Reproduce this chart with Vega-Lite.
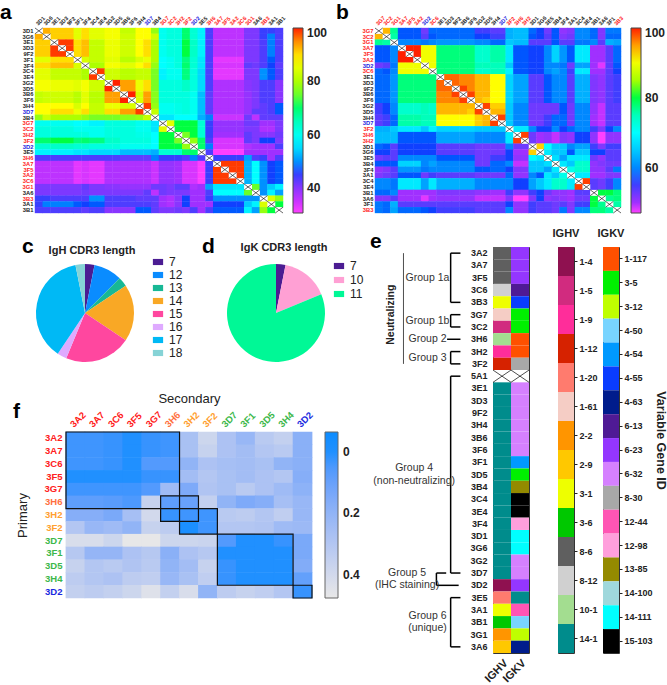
{"$schema":"https://vega.github.io/schema/vega-lite/v6.json","padding":{"left":0,"top":2,"right":0,"bottom":0},"background":"white","config":{"font":"Liberation Sans","view":{"stroke":null},"title":{"fontSize":21,"fontWeight":"bold","color":"black","frame":"group"}},"spacing":219,"align":"none","bounds":"flush","resolve":{"scale":{"color":"independent"},"legend":{"color":"independent"}},"vconcat":[{"spacing":92,"bounds":"flush","align":"none","resolve":{"scale":{"color":"independent"},"legend":{"color":"independent"}},"hconcat":[
{"title":{"text":"a","anchor":"start","dx":-35,"dy":8,"offset":0},"width":248,"height":185,"data":{"values":[
{"r":"3D1","v":[0,93,91,91,91,85,90,85,85,87,87,82,82,88,88,78,60,62,62,70,63,57,44,36,36,36,36,41,41,45,45,44]},
{"r":"3G6","v":[93,0,91,91,91,85,90,85,85,87,87,83,83,88,88,83,60,62,62,70,63,57,44,36,36,36,36,41,41,45,49,44]},
{"r":"3E1","v":[91,91,0,98,98,90,92,82,82,86,86,83,83,88,90,80,60,62,62,72,64,57,44,36,36,36,36,41,41,44,49,44]},
{"r":"3D3","v":[91,91,98,0,98,90,92,82,82,86,86,83,83,88,90,80,60,62,62,72,64,57,44,36,36,36,36,41,41,44,49,44]},
{"r":"9F2","v":[91,91,98,98,0,90,92,82,82,86,86,83,83,88,90,80,60,62,62,72,64,57,44,36,36,36,36,41,41,44,49,44]},
{"r":"3F1","v":[85,85,90,90,90,0,84,82,82,85,85,81,81,84,86,80,58,60,62,69,63,56,44,33,33,33,33,41,41,44,47,44]},
{"r":"3F4","v":[90,90,92,92,92,84,0,80,80,87,87,85,85,88,90,78,58,60,62,70,63,56,44,34,34,34,34,43,42,44,46,43]},
{"r":"3C4","v":[85,85,82,82,82,82,80,0,98,83,83,81,81,82,82,76,57,60,60,69,62,55,44,33,33,33,33,41,41,50,47,44]},
{"r":"3E4","v":[85,85,82,82,82,82,80,98,0,83,83,81,81,82,82,76,57,60,60,69,62,55,44,33,33,33,33,41,41,50,47,44]},
{"r":"3G2","v":[87,87,86,86,86,85,87,83,83,0,99,94,94,86,90,76,62,62,62,64,62,55,44,37,37,37,37,40,41,44,44,40]},
{"r":"3D5","v":[87,87,86,86,86,85,87,83,83,99,0,94,94,86,90,76,62,62,62,64,62,55,44,37,37,37,37,40,41,44,44,40]},
{"r":"3B6","v":[82,83,83,83,83,81,85,81,81,94,94,0,99,84,94,77,62,62,62,62,60,53,43,37,37,37,37,39,41,44,44,40]},
{"r":"3F6","v":[82,83,83,83,83,81,85,81,81,94,94,99,0,84,94,77,62,62,62,62,60,53,43,37,37,37,37,39,41,44,44,40]},
{"r":"3H4","v":[88,88,88,88,88,84,88,82,82,86,86,84,84,0,98,78,60,60,61,62,60,53,43,37,37,37,37,39,41,43,44,47]},
{"r":"3D7","v":[88,88,90,90,90,86,90,82,82,90,90,94,94,98,0,82,60,60,61,62,60,53,43,37,37,37,37,39,43,43,44,47]},
{"r":"3B4","v":[78,83,80,80,80,80,78,76,76,76,76,77,77,78,82,0,56,56,58,58,58,52,49,35,35,35,35,42,36,43,43,43]},
{"r":"3G7","v":[60,60,60,60,60,58,58,57,57,62,62,62,62,60,60,56,0,85,72,72,72,63,45,39,39,39,39,42,42,38,38,41]},
{"r":"3C2","v":[62,62,62,62,62,60,60,60,60,62,62,62,62,60,60,56,85,0,72,72,72,63,45,39,39,39,39,41,41,37,37,41]},
{"r":"3H2","v":[62,62,62,62,62,62,62,60,60,62,62,62,62,61,61,58,72,72,0,76,72,63,45,38,38,38,38,43,41,40,40,42]},
{"r":"3F2","v":[70,70,72,72,72,69,70,69,69,64,64,62,62,62,62,58,72,72,76,0,78,70,44,34,34,34,34,43,41,46,46,41]},
{"r":"3D2","v":[63,63,64,64,64,63,63,62,62,62,62,60,60,60,60,58,72,72,72,78,0,70,49,34,34,34,34,37,38,38,38,44]},
{"r":"3E5","v":[57,57,57,57,57,56,56,55,55,55,55,53,53,53,53,52,63,63,63,70,70,0,44,31,31,31,31,38,38,38,38,38]},
{"r":"3H6","v":[44,44,44,44,44,44,44,44,44,44,44,43,43,43,43,49,45,45,45,44,49,44,0,45,45,45,45,51,44,45,38,44]},
{"r":"3A7","v":[36,36,36,36,36,33,34,33,33,37,37,37,37,37,37,35,39,39,38,34,34,31,45,0,98,98,98,52,58,50,46,47]},
{"r":"3F5","v":[36,36,36,36,36,33,34,33,33,37,37,37,37,37,37,35,39,39,38,34,34,31,45,98,0,98,98,52,58,50,46,47]},
{"r":"3A2","v":[36,36,36,36,36,33,34,33,33,37,37,37,37,37,37,35,39,39,38,34,34,31,45,98,98,0,98,52,58,50,46,47]},
{"r":"3C6","v":[36,36,36,36,36,33,34,33,33,37,37,37,37,37,37,35,39,39,38,34,34,31,45,98,98,98,0,52,58,50,46,47]},
{"r":"3G1","v":[41,41,41,41,41,41,43,41,41,40,40,39,39,39,39,42,42,41,43,43,37,38,51,56,56,56,56,0,75,50,54,57]},
{"r":"3A6","v":[41,41,41,41,41,41,42,41,41,41,41,41,41,41,43,36,42,41,41,41,38,38,44,58,58,58,58,75,0,50,57,51]},
{"r":"3B3","v":[45,45,44,44,44,44,44,50,50,44,44,44,44,43,43,43,38,37,40,46,38,38,45,50,50,50,50,50,50,0,84,78]},
{"r":"3A1","v":[45,49,49,49,49,47,46,47,47,44,44,44,44,44,44,43,38,37,40,46,38,38,38,46,46,46,46,54,57,84,0,72]},
{"r":"3B1","v":[44,44,44,44,44,44,43,44,44,40,40,40,40,47,47,43,41,41,42,41,44,38,44,47,47,47,47,57,51,78,72,0]}
]},"transform":[{"flatten":["v"]},{"window":[{"op":"row_number","as":"c"}],"groupby":["r"]}],
"encoding":{"x":{"field":"c","type":"ordinal","axis":{"orient":"top","title":null,"domain":false,"ticks":false,"labelAngle":-45,"labelFontSize":5.5,"labelFontWeight":"bold","labelPadding":2,"labelExpr":"['3D1','3G6','3E1','3D3','9F2','3F1','3F4','3C4','3E4','3G2','3D5','3B6','3F6','3H4','3D7','3B4','3G7','3C2','3H2','3F2','3D2','3E5','3H6','3A7','3F5','3A2','3C6','3G1','3A6','3B3','3A1','3B1'][datum.value-1]","labelColor":{"condition":[{"test":"indexof([17,18,19,20,23,24,25,26,27,28,30],datum.value)>=0","value":"#ff2020"},{"test":"indexof([15,21],datum.value)>=0","value":"#2020e0"}],"value":"#222"}}},"y":{"field":"r","type":"nominal","sort":null,"axis":{"title":null,"domain":false,"ticks":false,"labelFontSize":5.8,"labelFontWeight":"bold","labelPadding":2,"labelColor":{"condition":[{"test":"indexof(['3G7','3C2','3H2','3F2','3H6','3A7','3F5','3A2','3C6','3G1','3B3'],datum.value)>=0","value":"#ff2020"},{"test":"indexof(['3D7','3D2'],datum.value)>=0","value":"#2020e0"}],"value":"#222"}}}},
"layer":[{"transform":[{"filter":"datum.v>0"}],"mark":{"type":"rect","width":{"band":1.06},"height":{"band":1.06}},"encoding":{"color":{"field":"v","type":"quantitative","scale":{"domain":[30.7,38,46,58,72,88,94,98.5,100],"range":["#ff40ff","#a030ff","#1040ff","#00ffff","#00ff40","#ffff00","#ffa000","#ff2000","#ff2000"]},"legend":{"orient":"none","legendX":258,"legendY":0,"title":null,"gradientLength":185,"gradientThickness":10,"gradientStrokeColor":"#444","gradientStrokeWidth":1,"labelFontSize":12,"labelFontWeight":"bold","labelColor":"#222","labelOffset":4,"values":[40,60,80,100]}}}},
{"transform":[{"filter":"datum.v==0"}],"mark":{"type":"rect","fill":"white"}},
{"transform":[{"filter":"datum.v==0"}],"mark":{"type":"point","shape":"M-1,-0.75L1,0.75M-1,0.75L1,-0.75","size":61,"stroke":"#222","strokeWidth":0.7,"opacity":1}}]},
{"title":{"text":"b","anchor":"start","dx":-39,"dy":8,"offset":0},"width":246,"height":185,"data":{"values":[
{"r":"3G7","v":[0,94,77,57,57,57,53,58,58,58,58,58,58,55,55,54,54,63,64,64,58,56,53,57,51,52,60,60,58,52,59,59]},
{"r":"3C2","v":[94,0,76,57,57,57,54,57,58,58,58,58,58,56,56,55,55,63,64,64,57,56,54,57,52,53,60,60,58,52,58,58]},
{"r":"3G1","v":[77,76,0,60,60,60,59,60,61,61,61,61,61,60,60,58,58,65,64,64,54,54,54,57,54,54,59,59,60,54,63,62]},
{"r":"3A7","v":[57,57,60,0,99,99,90,90,78,78,78,78,78,74,74,76,76,68,57,57,56,56,60,66,61,57,68,68,50,50,54,58]},
{"r":"3F5","v":[57,57,60,99,0,99,90,90,78,78,78,78,78,74,74,76,76,68,57,57,56,56,60,66,61,57,68,68,50,50,54,58]},
{"r":"3A2","v":[57,57,60,99,99,0,90,90,78,78,78,78,78,74,74,76,76,68,57,57,56,56,60,66,61,57,68,68,50,50,54,58]},
{"r":"3D2","v":[53,54,59,90,90,90,0,90,78,78,78,78,78,75,75,75,75,65,57,57,56,56,60,60,59,53,62,62,50,48,54,57]},
{"r":"3C6","v":[58,57,60,90,90,90,90,0,78,78,78,78,78,74,74,75,75,69,57,57,56,56,60,62,60,55,68,68,50,50,54,56]},
{"r":"3E1","v":[58,58,61,78,78,78,78,78,0,97,97,96,96,94,94,91,91,66,62,62,54,54,57,60,60,54,63,63,52,51,54,55]},
{"r":"3D3","v":[58,58,61,78,78,78,78,78,97,0,97,96,96,94,94,91,91,66,62,62,54,54,57,60,60,54,63,63,52,51,54,55]},
{"r":"9F2","v":[58,58,61,78,78,78,78,78,97,97,0,98,96,94,94,91,91,66,62,62,54,54,57,60,60,54,63,63,52,51,54,55]},
{"r":"3B6","v":[58,58,61,78,78,78,78,78,96,96,98,0,98,94,94,91,91,66,62,62,54,54,57,60,60,54,63,63,52,51,54,55]},
{"r":"3F6","v":[58,58,61,78,78,78,78,78,96,96,96,98,0,94,93,91,91,66,62,62,54,54,57,60,60,54,63,63,52,51,54,55]},
{"r":"3G2","v":[55,56,60,74,74,74,75,74,94,94,94,94,94,0,98,93,93,65,60,60,53,53,53,53,57,53,60,60,51,49,54,54]},
{"r":"3D5","v":[55,56,60,74,74,74,75,74,94,94,94,94,93,98,0,94,94,65,60,60,53,53,53,53,57,53,60,60,51,49,54,54]},
{"r":"3H4","v":[54,55,58,76,76,76,75,75,91,91,91,91,91,93,94,0,98,65,60,60,53,53,55,58,58,53,60,60,50,49,54,54]},
{"r":"3D7","v":[54,55,58,76,76,76,75,75,91,91,91,91,91,93,94,98,0,65,60,60,53,53,55,58,58,53,60,60,50,49,54,54]},
{"r":"3F2","v":[63,63,65,68,68,68,65,69,66,66,66,66,66,65,65,65,65,0,68,68,60,56,56,60,56,58,60,60,55,52,56,60]},
{"r":"3H6","v":[64,64,64,57,57,57,57,57,62,62,62,62,62,60,60,60,60,68,0,98,53,50,51,49,52,51,56,56,51,47,51,51]},
{"r":"3H2","v":[64,64,64,57,57,57,57,57,62,62,62,62,62,60,60,60,60,68,98,0,53,50,51,49,52,51,56,56,51,47,51,51]},
{"r":"3D1","v":[58,57,54,56,56,56,56,56,54,54,54,54,54,53,53,53,53,60,53,53,0,93,70,65,65,60,62,62,55,52,55,55]},
{"r":"3G6","v":[56,56,54,56,56,56,56,56,54,54,54,54,54,53,53,53,53,56,50,50,93,0,68,65,65,57,65,65,56,56,54,54]},
{"r":"3E5","v":[53,54,54,60,60,60,60,60,57,57,57,57,57,53,53,55,55,56,51,51,70,68,0,67,62,68,68,68,53,51,54,54]},
{"r":"3B4","v":[57,57,57,66,66,66,60,62,60,60,60,60,60,53,53,58,58,60,49,49,65,65,67,0,68,65,74,74,51,52,53,53]},
{"r":"3F4","v":[51,52,54,61,61,61,59,60,60,60,60,60,60,57,57,58,58,56,52,52,65,65,62,68,0,72,74,74,51,51,54,59]},
{"r":"3A1","v":[52,53,54,57,57,57,53,55,54,54,54,54,54,53,53,53,53,58,51,51,60,57,68,65,72,0,68,68,50,50,52,52]},
{"r":"3C4","v":[60,60,59,68,68,68,62,68,63,63,63,63,63,60,60,60,60,60,56,56,62,65,68,74,74,68,0,98,54,53,55,60]},
{"r":"3E4","v":[60,60,59,68,68,68,62,68,63,63,63,63,63,60,60,60,60,60,56,56,62,65,68,74,74,68,98,0,54,53,55,60]},
{"r":"3B1","v":[58,58,60,50,50,50,50,50,52,52,52,52,52,51,51,50,50,55,51,51,55,56,53,51,51,50,54,54,0,80,80,78]},
{"r":"3A6","v":[52,52,54,50,50,50,48,50,51,51,51,51,51,49,49,49,49,52,47,47,52,56,51,52,51,50,53,53,80,0,77,78]},
{"r":"3F1","v":[59,58,63,54,54,54,54,54,54,54,54,54,54,54,54,54,54,56,51,51,55,54,54,53,54,52,55,55,80,77,0,76]},
{"r":"3B3","v":[59,58,62,58,58,58,57,56,55,55,55,55,55,54,54,54,54,60,51,51,55,54,54,53,59,52,60,60,78,78,76,0]}
]},"transform":[{"flatten":["v"]},{"window":[{"op":"row_number","as":"c"}],"groupby":["r"]}],
"encoding":{"x":{"field":"c","type":"ordinal","axis":{"orient":"top","title":null,"domain":false,"ticks":false,"labelAngle":-45,"labelFontSize":5.5,"labelFontWeight":"bold","labelPadding":2,"labelExpr":"['3G7','3C2','3G1','3A7','3F5','3A2','3D2','3C6','3E1','3D3','9F2','3B6','3F6','3G2','3D5','3H4','3D7','3F2','3H6','3H2','3D1','3G6','3E5','3B4','3F4','3A1','3C4','3E4','3B1','3A6','3F1','3B3'][datum.value-1]","labelColor":{"condition":[{"test":"indexof([1,2,3,4,5,6,8,18,19,20,32],datum.value)>=0","value":"#ff2020"},{"test":"indexof([7,17],datum.value)>=0","value":"#2020e0"}],"value":"#222"}}},"y":{"field":"r","type":"nominal","sort":null,"axis":{"title":null,"domain":false,"ticks":false,"labelFontSize":5.8,"labelFontWeight":"bold","labelPadding":2,"labelColor":{"condition":[{"test":"indexof(['3G7','3C2','3G1','3A7','3F5','3A2','3C6','3F2','3H6','3H2','3B3'],datum.value)>=0","value":"#ff2020"},{"test":"indexof(['3D7','3D2'],datum.value)>=0","value":"#2020e0"}],"value":"#222"}}}},
"layer":[{"transform":[{"filter":"datum.v>0"}],"mark":{"type":"rect","width":{"band":1.06},"height":{"band":1.06}},"encoding":{"color":{"field":"v","type":"quantitative","scale":{"domain":[47,50,56,70,80,91,95,98.5,100],"range":["#ff40ff","#a030ff","#1040ff","#00ffff","#00ff40","#ffff00","#ffa000","#ff2000","#ff2000"]},"legend":{"orient":"none","legendX":256,"legendY":0,"title":null,"gradientLength":185,"gradientThickness":10,"gradientStrokeColor":"#444","gradientStrokeWidth":1,"labelFontSize":12,"labelFontWeight":"bold","labelColor":"#222","labelOffset":4,"values":[60,80,100]}}}},
{"transform":[{"filter":"datum.v==0"}],"mark":{"type":"rect","fill":"white"}},
{"transform":[{"filter":"datum.v==0"}],"mark":{"type":"point","shape":"M-1,-0.75L1,0.75M-1,0.75L1,-0.75","size":59,"stroke":"#222","strokeWidth":0.7,"opacity":1}}]}
]},
{"spacing":340,"bounds":"flush","align":"none","resolve":{"scale":{"color":"independent"},"legend":{"color":"independent"}},"hconcat":[
{"spacing":0,"bounds":"flush","align":"none","resolve":{"scale":{"color":"independent"},"legend":{"color":"independent"}},"vconcat":[
{"width":1,"height":16,"data":{"values":[]},"mark":"rect","encoding":{}},
{"spacing":191,"bounds":"flush","align":"none","resolve":{"scale":{"color":"independent"},"legend":{"color":"independent"}},"hconcat":[
{"title":{"text":"c","anchor":"start","dx":-13,"dy":12,"offset":0},"vconcat":[{"title":{"text":"IgH CDR3 length","fontSize":11,"fontWeight":"bold","color":"#222","anchor":"middle","offset":7,"dx":7},"width":100,"height":100,"data":{"values":[{"len":7,"n":1},{"len":12,"n":3},{"len":13,"n":1},{"len":14,"n":6},{"len":15,"n":7},{"len":16,"n":1},{"len":17,"n":12},{"len":18,"n":1}]},"mark":{"type":"arc","outerRadius":49},"encoding":{"theta":{"field":"n","type":"quantitative","stack":true},"order":{"field":"len","type":"quantitative"},"color":{"field":"len","type":"nominal","scale":{"domain":[7,12,13,14,15,16,17,18],"range":["#4b1c92","#0a8cff","#18b895","#f9a825","#ff479f","#dfaaff","#00b9f5","#86d3d6"]},"legend":{"orient":"none","legendX":117,"legendY":-7,"title":null,"symbolType":"M-1,-0.6H1V0.6H-1Z","symbolSize":105,"symbolStrokeWidth":0,"labelFontSize":12,"labelColor":"#222","rowPadding":1,"labelOffset":5}}}}]},
{"title":{"text":"d","anchor":"start","dx":-24,"dy":15,"offset":0},"vconcat":[{"title":{"text":"IgK CDR3 length","fontSize":11,"fontWeight":"bold","color":"#222","anchor":"middle","offset":10,"dx":8},"width":100,"height":100,"data":{"values":[{"len":7,"n":1},{"len":10,"n":5},{"len":11,"n":26}]},"mark":{"type":"arc","outerRadius":49},"encoding":{"theta":{"field":"n","type":"quantitative","stack":true},"order":{"field":"len","type":"quantitative"},"color":{"field":"len","type":"nominal","scale":{"domain":[7,10,11],"range":["#4b1c92","#ffa0d4","#00f896"]},"legend":{"orient":"none","legendX":107,"legendY":-3,"title":null,"symbolType":"M-1,-0.6H1V0.6H-1Z","symbolSize":105,"symbolStrokeWidth":0,"labelFontSize":12,"labelColor":"#222","rowPadding":2,"labelOffset":5}}}}]}
]},
{"width":1,"height":169,"data":{"values":[]},"mark":"rect","encoding":{}},
{"spacing":0,"bounds":"flush","align":"none","resolve":{"scale":{"color":"independent"},"legend":{"color":"independent"}},"hconcat":[
{"width":31,"height":1,"data":{"values":[]},"mark":"rect","encoding":{}},
{"title":{"text":"f","anchor":"start","dx":-53,"dy":30,"offset":0},"width":246,"height":166,"data":{"values":[
{"r":"3A2","v":[0.03,0.03,0.02,0,0.02,0.03,0.27,0.38,0.28,0.22,0.32,0.35,0.18]},
{"r":"3A7","v":[0.03,0.03,0.02,0,0.02,0.03,0.27,0.36,0.28,0.25,0.3,0.32,0.18]},
{"r":"3C6","v":[0.03,0.03,0.02,0,0.06,0.06,0.2,0.28,0.26,0.25,0.27,0.2,0.18]},
{"r":"3F5","v":[0,0,0,0,0.02,0.02,0.25,0.3,0.27,0.25,0.28,0.3,0.17]},
{"r":"3G7","v":[0.03,0.03,0.03,0.03,0.06,0.24,0.15,0.29,0.27,0.32,0.28,0.24,0.19]},
{"r":"3H6","v":[0.08,0.08,0.07,0.05,0.36,0.08,0.1,0.35,0.2,0.15,0.17,0.26,0.22]},
{"r":"3H2","v":[0.17,0.17,0.14,0.26,0.4,0.02,0.03,0.03,0.32,0.33,0.3,0.34,0.22]},
{"r":"3F2","v":[0.3,0.22,0.24,0.2,0.36,0.33,-0.02,0.03,0.3,0.3,0.29,0.24,0.23]},
{"r":"3D7","v":[0.42,0.42,0.38,0.47,0.47,0.38,0.38,0.37,0.06,0,0,0.02,0.14]},
{"r":"3F1","v":[0.31,0.21,0.21,0.28,0.31,0.18,0.28,0.31,0,0,0,0,0.14]},
{"r":"3D5","v":[0.36,0.3,0.32,0.29,0.32,0.2,0.25,0.36,0.02,0,0,0,0.16]},
{"r":"3H4","v":[0.33,0.3,0.28,0.33,0.34,0.22,0.27,0.34,0.02,0,0,0,0.09]},
{"r":"3D2","v":[0.35,0.33,0.35,0.38,0.44,0.35,0.42,0.2,0.33,0.36,0.34,0.3,0.02]}
]},"layer":[{"transform":[{"flatten":["v"]},{"window":[{"op":"row_number","as":"c"}],"groupby":["r"]}],"mark":{"type":"rect","width":{"band":1.04},"height":{"band":1.04}},"encoding":{"x":{"field":"c","type":"ordinal","axis":{"orient":"top","title":"Secondary","titleFontSize":13,"titleFontWeight":"normal","titleColor":"#222","titlePadding":4,"domain":false,"ticks":false,"labelAngle":-45,"labelFontSize":9.5,"labelFontWeight":"bold","labelPadding":3,"labelExpr":"['3A2','3A7','3C6','3F5','3G7','3H6','3H2','3F2','3D7','3F1','3D5','3H4','3D2'][datum.value-1]","labelColor":{"condition":[{"test":"datum.value<=5","value":"#ff2020"},{"test":"datum.value==6","value":"#ff7040"},{"test":"datum.value<=8","value":"#ffa030"},{"test":"datum.value<=12","value":"#3cb84a"}],"value":"#1a2ae0"}}},"y":{"field":"r","type":"nominal","sort":null,"axis":{"title":"Primary","titleFontSize":13,"titleFontWeight":"normal","titleColor":"#222","titlePadding":15,"domain":false,"ticks":false,"labelFontSize":9.5,"labelFontWeight":"bold","labelPadding":4,"labelColor":{"condition":[{"test":"indexof(['3A2','3A7','3C6','3F5','3G7'],datum.value)>=0","value":"#ff2020"},{"test":"datum.value=='3H6'","value":"#ff7040"},{"test":"indexof(['3H2','3F2'],datum.value)>=0","value":"#ffa030"},{"test":"datum.value=='3D2'","value":"#1a2ae0"}],"value":"#3cb84a"}}},"color":{"field":"v","type":"quantitative","scale":{"domain":[0.475,0,-0.065],"range":["#e8e8e8","#2090ff","#0a8cff"]},"legend":{"orient":"none","legendX":259,"legendY":0,"title":null,"gradientLength":166,"gradientThickness":13,"gradientStrokeColor":"#666","gradientStrokeWidth":1,"labelFontSize":12,"labelFontWeight":"bold","labelColor":"#222","labelOffset":5,"values":[0,0.2,0.4],"format":".1~f"}}}},
{"data":{"values":[{"a":1,"b":6,"s":"3A2","e":"3H6"},{"a":6,"b":7,"s":"3H6","e":"3H2"},{"a":7,"b":8,"s":"3H2","e":"3F2"},{"a":9,"b":12,"s":"3D7","e":"3H4"},{"a":13,"b":13,"s":"3D2","e":"3D2"}]},"mark":{"type":"rect","fill":null,"stroke":"#111","strokeWidth":1.2,"xOffset":-9.46,"x2Offset":9.46,"yOffset":-6.38,"y2Offset":6.38},"encoding":{"x":{"field":"a","type":"ordinal"},"x2":{"field":"b"},"y":{"field":"s","type":"nominal","sort":null},"y2":{"field":"e"}}}]}
]}
]},
{"title":{"text":"e","anchor":"start","dx":-5,"dy":24,"offset":0},"align":"none","bounds":"flush","spacing":29,"resolve":{"scale":{"color":"independent"},"legend":{"color":"independent"}},"hconcat":[
{"width":89,"height":406,"layer":[
{"data":{"values":[{"s":"3A2","e":"3B3"},{"s":"3G7","e":"3C2"},{"s":"3H2","e":"3F2"},{"s":"5A1","e":"3D7"},{"s":"3E5","e":"3A6"}]},"layer":[
{"mark":{"type":"rule","strokeWidth":1.5,"color":"black"},"encoding":{"x":{"datum":455,"type":"quantitative","scale":{"domain":[375,464]},"axis":null},"y":{"field":"s","type":"nominal","scale":{"type":"point","padding":0.5,"domain":["3A2","3A7","3F5","3C6","3B3","3G7","3C2","3H6","3H2","3F2","5A1","3E1","3D3","9F2","3H4","3B6","3F6","3F1","3D5","3B4","3C4","3E4","3F4","3D1","3G6","3G2","3D7","3D2","3E5","3A1","3B1","3G1","3A6"]},"axis":null},"y2":{"field":"e"}}},
{"mark":{"type":"rule","strokeWidth":1.5,"color":"black"},"encoding":{"x":{"datum":455,"type":"quantitative"},"x2":{"datum":466},"y":{"field":"s","type":"nominal"}}},
{"mark":{"type":"rule","strokeWidth":1.5,"color":"black"},"encoding":{"x":{"datum":455,"type":"quantitative"},"x2":{"datum":466},"y":{"field":"e","type":"nominal"}}}]},
{"data":{"values":[{"s":"3H6"}]},"mark":{"type":"rule","strokeWidth":1.5,"color":"black"},"encoding":{"x":{"datum":451,"type":"quantitative"},"x2":{"datum":466},"y":{"field":"s","type":"nominal"}}},
{"data":{"values":[{"s":"3D7","e":"3D2"}]},"layer":[
{"mark":{"type":"rule","strokeWidth":1.5,"color":"black"},"encoding":{"x":{"datum":439,"type":"quantitative"},"y":{"field":"s","type":"nominal"},"y2":{"field":"e"}}},
{"mark":{"type":"rule","strokeWidth":1.5,"color":"black"},"encoding":{"x":{"datum":439,"type":"quantitative"},"x2":{"datum":450},"y":{"field":"s","type":"nominal"}}},
{"mark":{"type":"rule","strokeWidth":1.5,"color":"black"},"encoding":{"x":{"datum":439,"type":"quantitative"},"x2":{"datum":464},"y":{"field":"e","type":"nominal"}}}]},
{"data":{"values":[{"s":"3A2","e":"3F2"}]},"mark":{"type":"rule","strokeWidth":0.8,"color":"#222"},"encoding":{"x":{"datum":402,"type":"quantitative"},"y":{"field":"s","type":"nominal"},"y2":{"field":"e"}}},
{"data":{"values":[{"t":"Neutralizing","s":"3G7"}]},"mark":{"type":"text","angle":270,"fontSize":10.5,"fontWeight":"bold","color":"#222","dy":-4},"encoding":{"x":{"datum":392,"type":"quantitative"},"y":{"field":"s","type":"nominal"},"text":{"field":"t"}}},
{"data":{"values":[{"t":"Group 1a","s":"3F5"},{"t":"Group 2","s":"3H6"}]},"mark":{"type":"text","fontSize":10.5,"color":"#333"},"encoding":{"x":{"datum":429,"type":"quantitative"},"y":{"field":"s","type":"nominal"},"text":{"field":"t"}}},
{"data":{"values":[{"t":"Group 1b","s":"3G7"},{"t":"Group 3","s":"3H2"},{"t":"Group 6","s":"3A1"},{"t":"(unique)","s":"3B1"}]},"mark":{"type":"text","fontSize":10.5,"color":"#333","dy":6},"encoding":{"x":{"datum":429,"type":"quantitative"},"y":{"field":"s","type":"nominal"},"text":{"field":"t"}}},
{"data":{"values":[{"t":"Group 4","s":"3F1"},{"t":"(non-neutralizing)","s":"3D5"}]},"mark":{"type":"text","fontSize":10.5,"color":"#333","dy":6},"encoding":{"x":{"datum":414,"type":"quantitative"},"y":{"field":"s","type":"nominal"},"text":{"field":"t"}}},
{"data":{"values":[{"t":"Group 5","s":"3D7"},{"t":"(IHC staining)","s":"3D2"}]},"mark":{"type":"text","fontSize":10.5,"color":"#333"},"encoding":{"x":{"datum":406,"type":"quantitative"},"y":{"field":"s","type":"nominal"},"text":{"field":"t"}}}
]},
{"width":36,"height":406,"view":{"stroke":"#333"},"data":{"values":[
{"s":"3A2","IGHV":"8-6","IGKV":"6-23"},{"s":"3A7","IGHV":"8-6","IGKV":"6-23"},{"s":"3F5","IGHV":"8-6","IGKV":"6-23"},{"s":"3C6","IGHV":"8-12","IGKV":"6-13"},{"s":"3B3","IGHV":"3-1","IGKV":"4-55"},{"s":"3G7","IGHV":"1-61","IGKV":"3-5"},{"s":"3C2","IGHV":"1-5","IGKV":"3-5"},{"s":"3H6","IGHV":"10-1","IGKV":"1-117"},{"s":"3H2","IGHV":"1-9","IGKV":"1-117"},{"s":"3F2","IGHV":"1-12","IGKV":"8-30"},{"s":"5A1","IGHV":"none","IGKV":"none"},{"s":"3E1","IGHV":"14-1","IGKV":"6-32"},{"s":"3D3","IGHV":"14-1","IGKV":"6-32"},{"s":"9F2","IGHV":"14-1","IGKV":"6-32"},{"s":"3H4","IGHV":"14-1","IGKV":"6-32"},{"s":"3B6","IGHV":"14-1","IGKV":"6-32"},{"s":"3F6","IGHV":"14-1","IGKV":"6-32"},{"s":"3F1","IGHV":"14-1","IGKV":"4-54"},{"s":"3D5","IGHV":"14-1","IGKV":"3-5"},{"s":"3B4","IGHV":"14-1","IGKV":"13-85"},{"s":"3C4","IGHV":"14-1","IGKV":"15-103"},{"s":"3E4","IGHV":"14-1","IGKV":"15-103"},{"s":"3F4","IGHV":"14-1","IGKV":"12-98"},{"s":"3D1","IGHV":"14-1","IGKV":"14-111"},{"s":"3G6","IGHV":"14-1","IGKV":"14-111"},{"s":"3G2","IGHV":"14-1","IGKV":"6-32"},{"s":"3D7","IGHV":"14-1","IGKV":"6-32"},{"s":"3D2","IGHV":"1-4","IGKV":"6-23"},{"s":"3E5","IGHV":"1-20","IGKV":"14-1"},{"s":"3A1","IGHV":"3-1","IGKV":"12-44"},{"s":"3B1","IGHV":"3-6","IGKV":"4-50"},{"s":"3G1","IGHV":"2-2","IGKV":"3-12"},{"s":"3A6","IGHV":"2-9","IGKV":"4-63"}]},
"transform":[{"fold":["IGHV","IGKV"],"as":["col","gene"]}],
"encoding":{"x":{"field":"col","type":"nominal","axis":{"title":null,"domain":false,"ticks":false,"labelAngle":-45,"labelFontSize":11,"labelFontWeight":"bold","labelColor":"#222","labelPadding":4}},"y":{"field":"s","type":"nominal","sort":null,"axis":{"title":null,"domain":false,"ticks":false,"labelFontSize":9,"labelFontWeight":"bold","labelColor":"#222","labelPadding":6}}},
"layer":[{"mark":"rect","encoding":{"color":{"field":"gene","type":"nominal","legend":null,"scale":{"domain":["none","1-4","1-5","1-9","1-12","1-20","1-61","2-2","2-9","3-1","3-6","8-6","8-12","10-1","14-1","1-117","3-5","3-12","4-50","4-54","4-55","4-63","6-13","6-23","6-32","8-30","12-44","12-98","13-85","14-100","14-111","15-103"],"range":["#ffffff","#8f1150","#d12b7f","#ff2d9a","#d62200","#ff7b6e","#f5cdc5","#ff9500","#ffc800","#eeff00","#00c800","#5f5f5f","#d0d0d0","#a3dd90","#008c8c","#ff5000","#00f000","#bfff00","#78d4ff","#0099ff","#0a3cff","#001c8c","#4f1a95","#9436ff","#d580ff","#a8a8a8","#ff55b4","#ff9fdc","#948a00","#9fd8dc","#00ffff","#000000"]}}}},
{"transform":[{"filter":"datum.gene=='none'"}],"mark":{"type":"point","shape":"M-1,-0.68L1,0.68M-1,0.68L1,-0.68","size":324,"stroke":"#222","strokeWidth":0.8,"opacity":1}}]},
{"title":{"text":"IGHV","fontSize":11,"fontWeight":"bold","color":"#222","offset":8},"width":16,"height":406,"view":{"stroke":"#333"},"data":{"values":[{"g":"1-4"},{"g":"1-5"},{"g":"1-9"},{"g":"1-12"},{"g":"1-20"},{"g":"1-61"},{"g":"2-2"},{"g":"2-9"},{"g":"3-1"},{"g":"3-6"},{"g":"8-6"},{"g":"8-12"},{"g":"10-1"},{"g":"14-1"}]},"mark":"rect","encoding":{"y":{"field":"g","type":"nominal","sort":null,"axis":{"orient":"right","title":null,"domain":false,"tickSize":3,"tickColor":"#222","labelFontSize":9,"labelFontWeight":"bold","labelColor":"#222","labelPadding":2}},"color":{"field":"g","type":"nominal","sort":null,"legend":null,"scale":{"range":["#8f1150","#d12b7f","#ff2d9a","#d62200","#ff7b6e","#f5cdc5","#ff9500","#ffc800","#eeff00","#00c800","#5f5f5f","#d0d0d0","#a3dd90","#008c8c"]}}}},
{"title":{"text":"IGKV","fontSize":11,"fontWeight":"bold","color":"#222","offset":8},"width":16,"height":406,"view":{"stroke":"#333"},"data":{"values":[{"g":"1-117"},{"g":"3-5"},{"g":"3-12"},{"g":"4-50"},{"g":"4-54"},{"g":"4-55"},{"g":"4-63"},{"g":"6-13"},{"g":"6-23"},{"g":"6-32"},{"g":"8-30"},{"g":"12-44"},{"g":"12-98"},{"g":"13-85"},{"g":"14-100"},{"g":"14-111"},{"g":"15-103"}]},"mark":"rect","encoding":{"y":{"field":"g","type":"nominal","sort":null,"axis":{"orient":"right","title":"Variable Gene ID","titleFontSize":12.5,"titleFontWeight":"bold","titleColor":"#222","titlePadding":1,"titleY":193,"domain":false,"tickSize":3,"tickColor":"#222","labelFontSize":9,"labelFontWeight":"bold","labelColor":"#222","labelPadding":2}},"color":{"field":"g","type":"nominal","sort":null,"legend":null,"scale":{"range":["#ff5000","#00f000","#bfff00","#78d4ff","#0099ff","#0a3cff","#001c8c","#4f1a95","#9436ff","#d580ff","#a8a8a8","#ff55b4","#ff9fdc","#948a00","#9fd8dc","#00ffff","#000000"]}}}}
]}
]}
]}
